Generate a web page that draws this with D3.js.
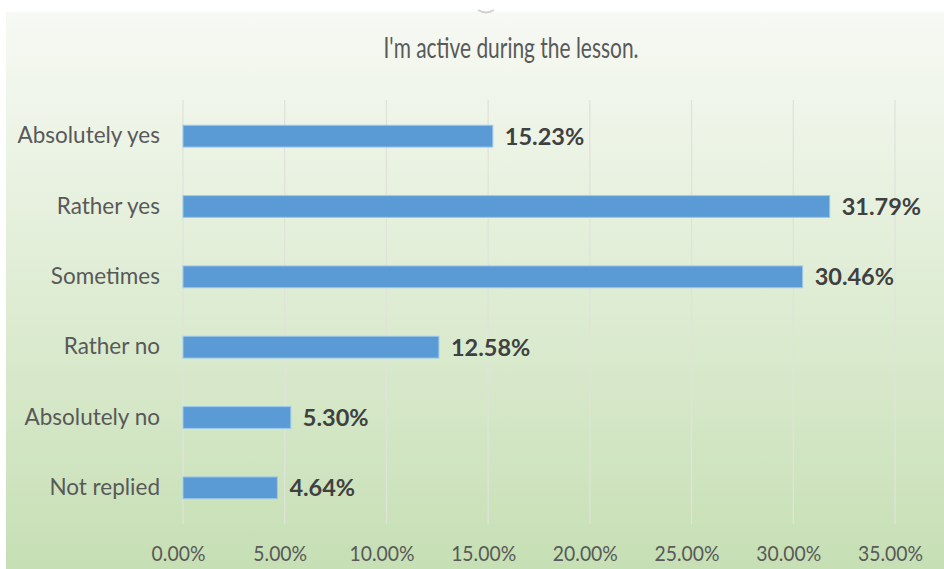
<!DOCTYPE html>
<html><head><meta charset="utf-8">
<script src="https://cdn.jsdelivr.net/npm/d3@7/dist/d3.min.js"></script>
<style>html,body{margin:0;padding:0;background:#fff;}svg{display:block;}</style>
</head><body><svg id="c" width="944" height="569"></svg>
<script>
const categories = ["Absolutely yes","Rather yes","Sometimes","Rather no","Absolutely no","Not replied"];
const values = [15.23, 31.79, 30.46, 12.58, 5.30, 4.64];
const tickValues = [0,5,10,15,20,25,30,35];
const title = "I'm active during the lesson.";

const svg = d3.select("#c");
const W = 944, H = 569;
const FONT = "Lato, 'Open Sans', sans-serif";

const defs = svg.append("defs");
const g = defs.append("linearGradient").attr("id","bg").attr("x1",0).attr("y1",0).attr("x2",0).attr("y2",1);
g.append("stop").attr("offset","0%").attr("stop-color","#f7f9f4");
g.append("stop").attr("offset","30%").attr("stop-color","#e9f2e1");
g.append("stop").attr("offset","100%").attr("stop-color","#c6dfb4");

svg.append("rect").attr("x",6).attr("y",12).attr("width",W-6).attr("height",H-12).attr("fill","url(#bg)");
// small handle mark at top
svg.append("path").attr("d","M478,10 Q486,15 494,10").attr("fill","none").attr("stroke","#d0d0d0").attr("stroke-width",2);

svg.append("text").attr("x",511).attr("y",58).attr("text-anchor","middle")
  .attr("font-family",FONT).attr("font-size",28).attr("fill","#595959")
  .attr("textLength",255).attr("lengthAdjust","spacingAndGlyphs").text(title);

const x = d3.scaleLinear().domain([0,35]).range([183,895]);
const y = d3.scaleBand().domain(categories).range([101,523]).paddingInner(0.69).paddingOuter(0.345);

// gridlines
svg.append("g").selectAll("line").data(tickValues).join("line")
  .attr("x1",d=>x(d)).attr("x2",d=>x(d)).attr("y1",100).attr("y2",524)
  .attr("stroke","#dfe3da").attr("stroke-width",1.3);

// bars
svg.append("g").selectAll("rect").data(values).join("rect")
  .attr("x",x(0)).attr("y",(d,i)=>y(categories[i]))
  .attr("width",d=>x(d)-x(0)).attr("height",y.bandwidth())
  .attr("fill","#5b9bd5").attr("stroke","#9cc9ec").attr("stroke-width",1);

// value labels
svg.append("g").selectAll("text").data(values).join("text")
  .attr("x",d=>x(d)+12).attr("y",(d,i)=>y(categories[i])+y.bandwidth()/2)
  .attr("dy","0.36em").attr("font-family",FONT).attr("font-weight","bold")
  .attr("font-size",23.5).attr("fill","#404040").text(d=>d.toFixed(2)+"%");

// category axis
const yAxis = d3.axisLeft(y).tickSize(0).tickPadding(23);
const ya = svg.append("g").attr("transform",`translate(${x(0)},0)`).call(yAxis);
ya.select(".domain").remove();
ya.selectAll("text").attr("font-family",FONT).attr("font-size",22.5).attr("fill","#595959");

// value axis
const xAxis = d3.axisBottom(x).tickValues(tickValues).tickSize(0).tickPadding(0).tickFormat(d=>d.toFixed(2)+"%");
const xa = svg.append("g").attr("transform",`translate(-5,545)`).call(xAxis);
xa.select(".domain").remove();
xa.selectAll("text").attr("font-family",FONT).attr("font-size",22).attr("fill","#595959")
  .each(function(){ const t=d3.select(this); const L=this.getComputedTextLength();
    t.attr("textLength",L*0.88).attr("lengthAdjust","spacingAndGlyphs"); });
</script></body></html>
